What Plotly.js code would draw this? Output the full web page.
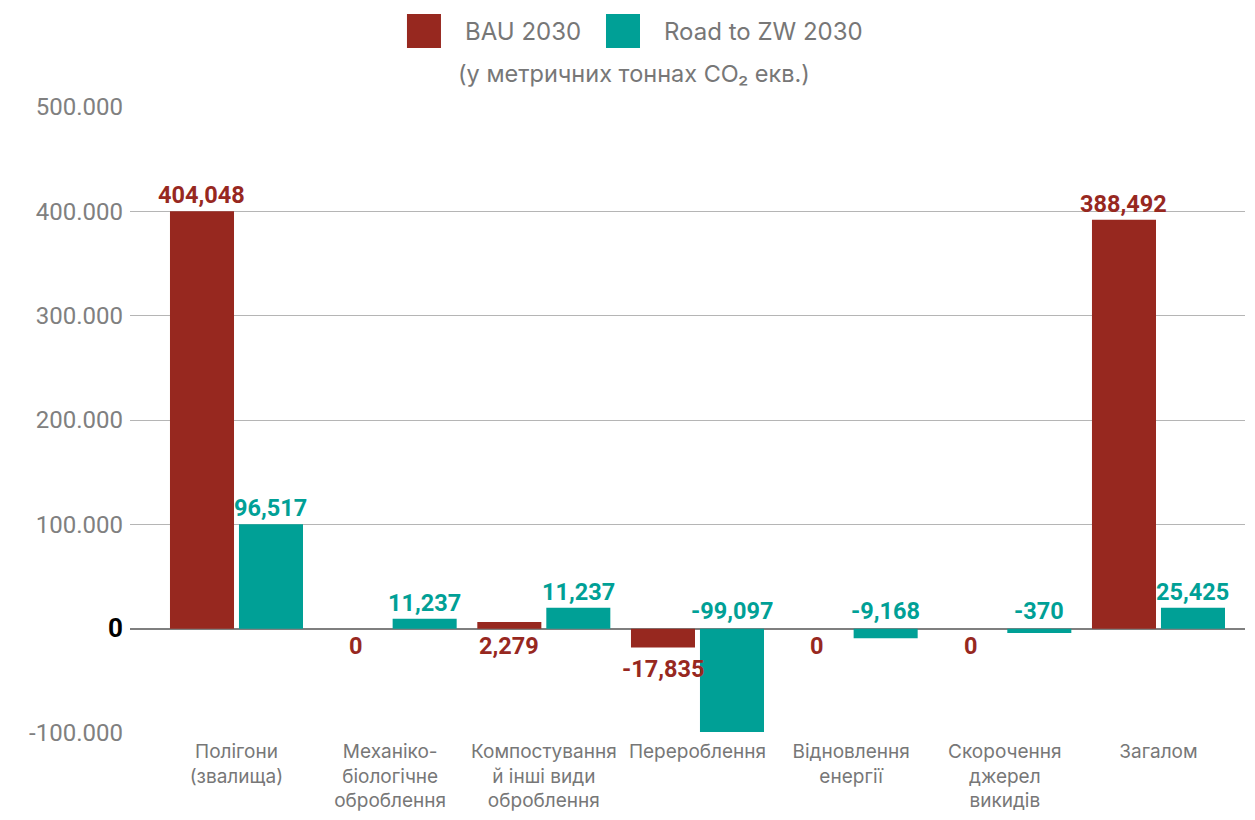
<!DOCTYPE html>
<html>
<head>
<meta charset="utf-8">
<script src="https://cdn.plot.ly/plotly-3.0.1.min.js"></script>
<style>html,body{margin:0;padding:0;background:#fff;}#chart{width:1255px;height:820px;}</style>
</head>
<body>
<div id="chart"></div>
<script>
var categories = ["Полігони<br>(звалища)", "Механіко-<br>біологічне<br>оброблення", "Компостування<br>й інші види<br>оброблення", "Перероблення", "Відновлення<br>енергії", "Скорочення<br>джерел<br>викидів", "Загалом"];
var seriesNames = ["BAU 2030", "Road to ZW 2030"];
var bauValues = [400000, 0, 6500, -18000, 0, 0, 392000];
var roadValues = [100000, 9600, 20000, -99000, -9300, -4200, 20000];
var bauLabels = ["404,048", "0", "2,279", "-17,835", "0", "0", "388,492"];
var roadLabels = ["96,517", "11,237", "11,237", "-99,097", "-9,168", "-370", "25,425"];
var tickValues = [-100000, 0, 100000, 200000, 300000, 400000, 500000];
var tickLabels = ["-100.000", "<span style=\"font-size:26px;color:#000\"><b>0</b></span>", "100.000", "200.000", "300.000", "400.000", "500.000"];
var subtitle = "(у метричних тоннах CO₂ екв.)";

var RED = "#97281F", TEAL = "#00A096", GRAY = "#777777";
var xIdx = categories.map(function(c, i){ return i; });

var traces = [
  {type: "bar", name: seriesNames[0], x: xIdx, y: bauValues, marker: {color: RED}, hoverinfo: "skip"},
  {type: "bar", name: seriesNames[1], x: xIdx, y: roadValues, marker: {color: TEAL}, hoverinfo: "skip"}
];

var annotations = [];
var labelFamily = "Roboto, sans-serif", labelSize = 23.5;
bauValues.forEach(function(v, i){
  var big = v >= 50000;
  var ys = big ? 0 : (v < -1000 ? -6 : -1);
  annotations.push({x: i, y: big ? v : Math.min(v, 0), xref: "x", yref: "y", text: "<b>" + bauLabels[i] + "</b>",
    showarrow: false, xshift: -34.5, yanchor: big ? "bottom" : "top", yshift: ys,
    font: {family: labelFamily, size: labelSize, color: RED}});
});
roadValues.forEach(function(v, i){
  annotations.push({x: i, y: Math.max(v, 0), xref: "x", yref: "y", text: "<b>" + roadLabels[i] + "</b>",
    showarrow: false, xshift: 34.5, yanchor: "bottom", yshift: v < 0 ? 2 : 0,
    font: {family: labelFamily, size: labelSize, color: TEAL}});
});
// legend texts and subtitle
annotations.push({xref: "paper", yref: "paper", x: 0.2987, y: 1.1214, xanchor: "left", yanchor: "middle", showarrow: false,
  text: seriesNames[0], font: {family: "Inter, sans-serif", size: 24, color: GRAY}});
annotations.push({xref: "paper", yref: "paper", x: 0.4771, y: 1.1214, xanchor: "left", yanchor: "middle", showarrow: false,
  text: seriesNames[1], font: {family: "Inter, sans-serif", size: 24, color: GRAY}});
annotations.push({xref: "paper", yref: "paper", x: 0.452, y: 1.0543, xanchor: "center", yanchor: "middle", showarrow: false,
  text: subtitle, font: {family: "Inter, sans-serif", size: 23.5, color: GRAY}});

var shapes = [
  {type: "rect", xref: "paper", yref: "paper", x0: 0.2484, x1: 0.2789, y0: 1.0942, y1: 1.1486, fillcolor: RED, line: {width: 0}},
  {type: "rect", xref: "paper", yref: "paper", x0: 0.4269, x1: 0.4574, y0: 1.0942, y1: 1.1486, fillcolor: TEAL, line: {width: 0}}
];

var layout = {
  width: 1255, height: 820,
  margin: {l: 130, r: 10, t: 107, b: 87},
  paper_bgcolor: "#fff", plot_bgcolor: "#fff",
  barmode: "group", bargap: 0.102, bargroupgap: 0.072,
  showlegend: false,
  xaxis: {
    tickmode: "array", tickvals: xIdx, ticktext: categories,
    range: [-0.693, 6.563], showgrid: false, zeroline: false, showline: false, ticks: "",
    ticklabelstandoff: 5,
    tickfont: {family: "Inter, sans-serif", size: 19, color: GRAY}
  },
  yaxis: {
    range: [-100000, 500000], tickmode: "array", tickvals: tickValues, ticktext: tickLabels,
    showgrid: true, gridcolor: "#b5b5b5", gridwidth: 1,
    zeroline: true, zerolinecolor: "#7f7f7f", zerolinewidth: 2,
    showline: false, ticks: "", ticklabelstandoff: 6,
    tickfont: {family: "Roboto, sans-serif", size: 24, color: "#808080"}
  },
  annotations: annotations,
  shapes: shapes
};

Plotly.newPlot("chart", traces, layout, {displayModeBar: false, staticPlot: true});
</script>
</body>
</html>
